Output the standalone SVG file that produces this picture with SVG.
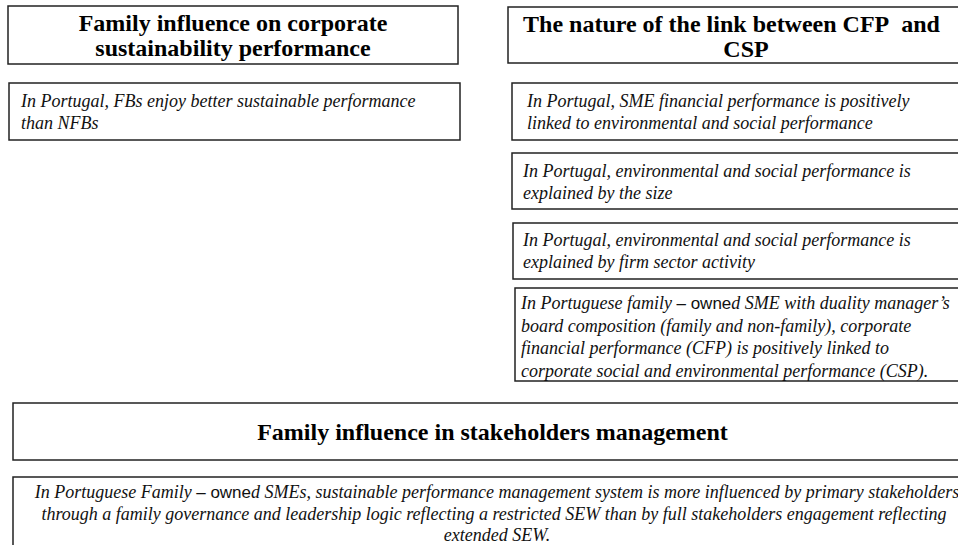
<svg xmlns="http://www.w3.org/2000/svg" width="958" height="545" viewBox="0 0 958 545">
<style>
  .box { fill: #ffffff; stroke: #222222; stroke-width: 1.5; }
  .title { font-family: 'Liberation Serif', 'DejaVu Serif', serif; font-weight: bold; font-size: 24px; fill: #000000; }
  .body { font-family: 'Liberation Serif', 'DejaVu Serif', serif; font-style: italic; font-size: 18px; fill: #111111; }
  .sans { font-family: 'Liberation Sans', 'DejaVu Sans', sans-serif; font-style: normal; font-size: 17px; }
</style>
<rect x="0" y="0" width="958" height="545" fill="#ffffff"/>
<g id="connectors"></g>

<g id="node-family-title">
  <rect class="box" x="8" y="6" width="450" height="58"/>
  <text class="title" x="233" y="31" text-anchor="middle">Family influence on corporate</text>
  <text class="title" x="233" y="56" text-anchor="middle">sustainability performance</text>
</g>

<g id="node-fbs">
  <rect class="box" x="9" y="83" width="451" height="57"/>
  <text class="body" x="21" y="107">In Portugal, FBs enjoy better sustainable performance</text>
  <text class="body" x="21" y="129">than NFBs</text>
</g>

<g id="node-cfp-title">
  <rect class="box" x="508" y="7" width="480" height="56"/>
  <text class="title" x="731.5" y="32" text-anchor="middle">The nature of the link between CFP&#160; and</text>
  <text class="title" x="746" y="57" text-anchor="middle">CSP</text>
</g>

<g id="node-sme-financial">
  <rect class="box" x="512" y="83" width="480" height="57"/>
  <text class="body" x="527" y="107">In Portugal, SME financial performance is positively</text>
  <text class="body" x="527" y="129">linked to environmental and social performance</text>
</g>

<g id="node-size">
  <rect class="box" x="512" y="153" width="480" height="56"/>
  <text class="body" x="523" y="177">In Portugal, environmental and social performance is</text>
  <text class="body" x="523" y="199">explained by the size</text>
</g>

<g id="node-sector">
  <rect class="box" x="513" y="223" width="480" height="56"/>
  <text class="body" x="523" y="246">In Portugal, environmental and social performance is</text>
  <text class="body" x="523" y="268">explained by firm sector activity</text>
</g>

<g id="node-duality">
  <rect class="box" x="515" y="288" width="480" height="93"/>
  <text class="body" x="521" y="309">In Portuguese family <tspan class="sans">– owne</tspan>d SME with duality manager’s</text>
  <text class="body" x="521" y="331.5">board composition (family and non-family), corporate</text>
  <text class="body" x="521" y="354">financial performance (CFP) is positively linked to</text>
  <text class="body" x="521" y="376.5">corporate social and environmental performance (CSP).</text>
</g>

<g id="node-stakeholders-title">
  <rect class="box" x="13" y="403" width="990" height="57"/>
  <text class="title" x="492.5" y="440" text-anchor="middle">Family influence in stakeholders management</text>
</g>

<g id="node-stakeholders">
  <rect class="box" x="13" y="477" width="990" height="90"/>
  <text class="body" x="497" y="498" text-anchor="middle">In Portuguese Family <tspan class="sans">– owne</tspan>d SMEs, sustainable performance management system is more influenced by primary stakeholders</text>
  <text class="body" x="494" y="520" text-anchor="middle">through a family governance and leadership logic reflecting a restricted SEW than by full stakeholders engagement reflecting</text>
  <text class="body" x="497" y="541" text-anchor="middle">extended SEW.</text>
</g>
</svg>
